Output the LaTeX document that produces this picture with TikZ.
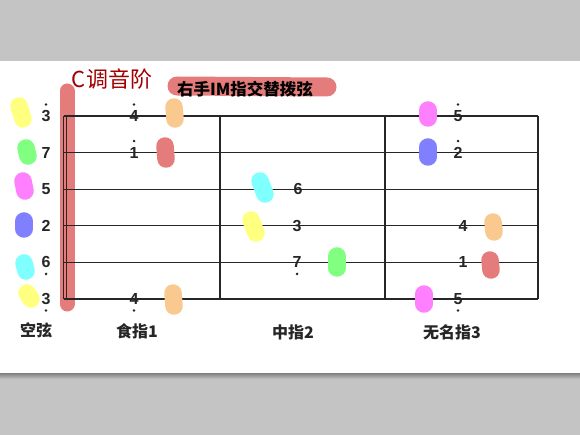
\documentclass[tikz,border=0pt]{standalone}
\usepackage{fontspec}
\setmainfont{Liberation Sans}
\newfontfamily\cjk{Noto Sans CJK SC}
\usepackage{xcolor}
\usetikzlibrary{positioning}

\definecolor{pagegray}{HTML}{C4C4C4}
\definecolor{hlred}{HTML}{E57C7C}
\definecolor{inkred}{HTML}{A00000}
\definecolor{pyellow}{HTML}{FFFF80}
\definecolor{pgreen}{HTML}{80FF80}
\definecolor{pmagenta}{HTML}{FF80FF}
\definecolor{pblue}{HTML}{8080FF}
\definecolor{pcyan}{HTML}{80FFFF}
\definecolor{porange}{HTML}{FAC98F}

\tikzset{
  stringline/.style={line width=1.3pt, black!85},
  blob/.style={line width=17.5pt, line cap=round},
  note/.style={font=\bfseries\fontsize{16}{16}\selectfont, inner sep=0pt, black!85},
  fingerlab/.style={font=\cjk\bfseries\fontsize{16}{16}\selectfont, inner sep=0pt, black!85},
}

\begin{document}
\begin{tikzpicture}[x=1pt, y=-1pt]
  % page
  \fill[pagegray] (0,0) rectangle (580,435);
  \fill[white] (0,61) rectangle (580,373);
  \shade[top color=black!50, bottom color=pagegray] (0,373) rectangle (580,379);
  \useasboundingbox (0,0) rectangle (580,435);

  % highlights
  \draw[hlred, line width=15pt, line cap=round] (67,91) -- (67,304);
  \draw[hlred, line width=19pt, line cap=round] (177,86) -- (327,87);

  % titles
  \node[font=\cjk\fontsize{22}{22}\selectfont, text=inkred, inner sep=0pt] (scale) at (112,79) {C调音阶};
  \node[fingerlab, font=\cjk\bfseries\fontsize{16.5}{16.5}\selectfont, black] (title) at (245,89) {右手IM指交替拨弦};

  % strings and frets
  \foreach \y in {116,152.6,189.2,225.8,262.4,299} {
    \draw[stringline] (63.5,\y) -- (538,\y);
  }
  \foreach \x in {63.5,66.5,220,385,538} {
    \draw[stringline] (\x,116) -- (\x,299);
  }

  % fingers (colour marks)
  \foreach \c/\xa/\ya/\xb/\yb in {
      pyellow/19/106/23/119, pgreen/26/148/28/156, pmagenta/23/181/25/191,
      pblue/24/221/24/229, pcyan/24/263/26/271, pyellow/27/293/31/299,
      porange/174/107/175/119, hlred/165/146/166/159, porange/173/293/174/306,
      pcyan/260/181/265/194, pyellow/251/220/256/233, pgreen/337/256/337/268,
      pmagenta/428/110/428/118, pblue/428/147/428/157,
      porange/493/222/494/232, hlred/490/260/491/270, pmagenta/424/294/424/304} {
    \draw[blob, \c] (\xa,\ya) -- (\xb,\yb);
  }

  % notes (1 = dot above, -1 = dot below)
  \foreach \nm/\x/\y/\t/\d in {
      o1/46/116/3/1, o2/46/152.6/7/0, o3/46/189.2/5/0,
      o4/46/225.8/2/0, o5/46/262.4/6/-1, o6/46/299/3/-1,
      i1/134/116/4/1, i2/134/152.6/1/1, i6/134/299/4/-1,
      m3/298/189.2/6/0, m4/297/225.8/3/0, m5/297/262.4/7/-1,
      r1/458/116/5/1, r2/458/152.6/2/1, r4/463/225.8/4/0,
      r5/463/262.4/1/0, r6/458/299/5/-1} {
    \node[note] (\nm) at (\x,\y) {\t};
    \ifnum\d=0\else
      \fill[black!85] (\x,{\y-11.5*\d}) circle (1.4);
    \fi
  }

  % finger names
  \node[fingerlab] (open) at (36,330) {空弦};
  \node[fingerlab] (index) at (137,331) {食指1};
  \node[fingerlab] (middle) at (293,332) {中指2};
  \node[fingerlab] (ring) at (452,332) {无名指3};
\end{tikzpicture}
\end{document}
